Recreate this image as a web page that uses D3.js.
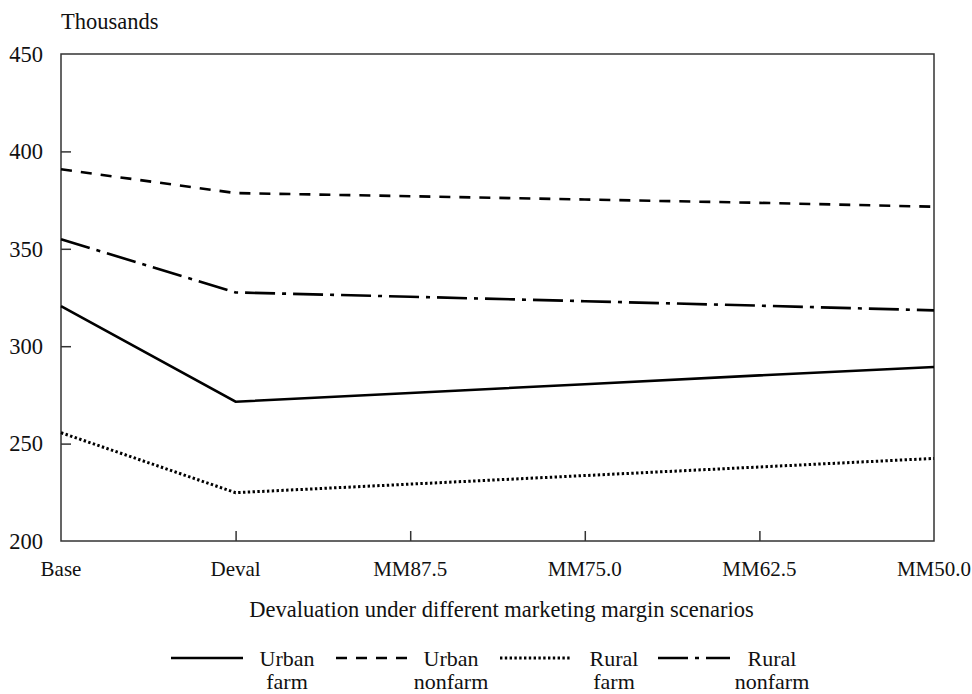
<!DOCTYPE html>
<html>
<head>
<meta charset="utf-8">
<script src="https://cdn.jsdelivr.net/npm/d3@7"></script>
<style>
  html, body { margin: 0; padding: 0; background: #fff; }
  svg text { font-family: "Liberation Serif", "Times New Roman", Times, "DejaVu Serif", serif; fill: #111; }
</style>
</head>
<body>
<svg id="chart" width="972" height="694"></svg>
<script>
const categories = ["Base", "Deval", "MM87.5", "MM75.0", "MM62.5", "MM50.0"];
const urbanFarm    = [320.6, 271.5, 276.0, 280.5, 285.0, 289.3];
const urbanNonfarm = [390.8, 378.6, 377.0, 375.3, 373.6, 371.6];
const ruralFarm    = [255.6, 224.8, 229.2, 233.6, 238.0, 242.4];
const ruralNonfarm = [354.9, 327.6, 325.4, 323.1, 320.8, 318.4];
const yTicks = [200, 250, 300, 350, 400, 450];
const seriesNames = [["Urban", "farm"], ["Urban", "nonfarm"], ["Rural", "farm"], ["Rural", "nonfarm"]];

const series = [
  { name: seriesNames[0], values: urbanFarm,    dash: null,       w: 2.6 },
  { name: seriesNames[1], values: urbanNonfarm, dash: "11,9",     w: 2.6 },
  { name: seriesNames[2], values: ruralFarm,    dash: "2.4,2.4",  w: 3 },
  { name: seriesNames[3], values: ruralNonfarm, dash: "30,7,4,7", w: 2.6 }
];

const FONT = '"Liberation Serif", "Times New Roman", Times, "DejaVu Serif", serif';
const svg = d3.select("#chart");
const pLeft = 61, pRight = 934, pTop = 54, pBottom = 541;
const fs = "22.5px";

const x = d3.scalePoint().domain(categories).range([pLeft, pRight]);
const y = d3.scaleLinear().domain([200, 450]).range([pBottom, pTop]);

function txt(sel, size) {
  return sel.attr("font-family", FONT).style("font-family", FONT).style("font-size", size || fs);
}

// frame
svg.append("rect")
  .attr("x", pLeft).attr("y", pTop)
  .attr("width", pRight - pLeft).attr("height", pBottom - pTop)
  .attr("fill", "none").attr("stroke", "#333").attr("stroke-width", 1.5);

// y axis ticks (inward)
const yAxis = d3.axisRight(y).tickValues(yTicks).tickSize(10).tickFormat("");
const gy = svg.append("g").attr("transform", `translate(${pLeft},0)`).call(yAxis);
gy.select(".domain").remove();
gy.selectAll(".tick line").attr("stroke", "#333").attr("stroke-width", 1.5)
  .filter(d => d === 200 || d === 450).remove();
txt(svg.append("g").selectAll("text").data(yTicks).join("text")
  .attr("x", 43).attr("y", d => y(d)).attr("dy", "0.35em")
  .attr("text-anchor", "end").text(d => d));

// x axis ticks (inward)
const xAxis = d3.axisTop(x).tickSize(10).tickFormat("");
const gx = svg.append("g").attr("transform", `translate(0,${pBottom})`).call(xAxis);
gx.select(".domain").remove();
gx.selectAll(".tick line").attr("stroke", "#333").attr("stroke-width", 1.5)
  .filter(d => d === categories[0] || d === categories[categories.length - 1]).remove();
txt(svg.append("g").selectAll("text").data(categories).join("text")
  .attr("x", d => x(d)).attr("y", 576)
  .attr("text-anchor", "middle").text(d => d), "21px");

// titles
txt(svg.append("text").attr("x", 61).attr("y", 29).text("Thousands"));
txt(svg.append("text").attr("x", (248 + 755) / 2).attr("y", 617)
  .attr("text-anchor", "middle")
  .text("Devaluation under different marketing margin scenarios"));

// lines
const line = d3.line().x((d, i) => x(categories[i])).y(d => y(d));
svg.append("g").selectAll("path").data(series).join("path")
  .attr("d", d => line(d.values))
  .attr("fill", "none").attr("stroke", "#000").attr("stroke-width", d => d.w)
  .attr("stroke-dasharray", d => d.dash);

// legend
const legX = [171, 336, 500, 658];
const legTextX = [287, 451, 614, 772];
const lg = svg.append("g");
series.forEach((s, i) => {
  lg.append("line")
    .attr("x1", legX[i]).attr("x2", legX[i] + 72)
    .attr("y1", 658).attr("y2", 658)
    .attr("stroke", "#000").attr("stroke-width", s.w)
    .attr("stroke-dasharray", s.dash);
  txt(lg.append("text").attr("x", legTextX[i]).attr("y", 666)
    .attr("text-anchor", "middle").text(s.name[0]), "22px");
  txt(lg.append("text").attr("x", legTextX[i]).attr("y", 689)
    .attr("text-anchor", "middle").text(s.name[1]), "22px");
});
</script>
</body>
</html>
